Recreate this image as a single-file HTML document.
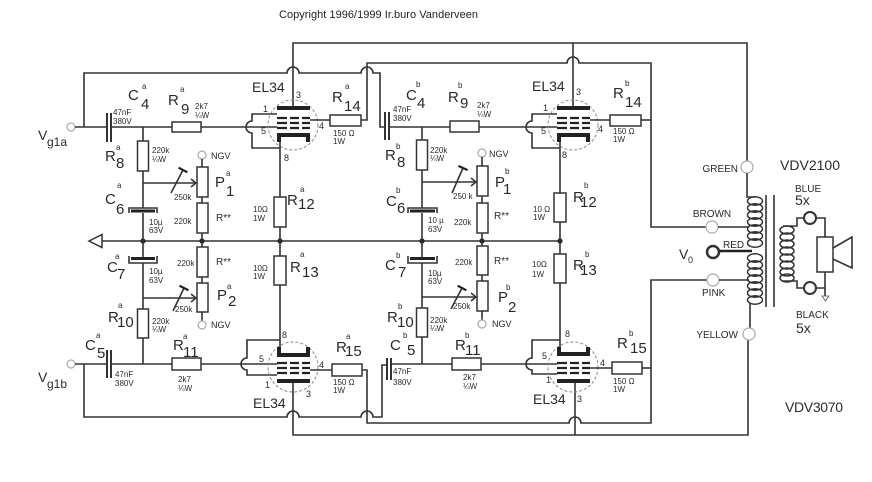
<!DOCTYPE html>
<html><head><meta charset="utf-8"><style>
html,body{margin:0;padding:0;background:#fff;overflow:hidden}
svg{display:block}
.w{stroke:#333;stroke-width:1.6;fill:none}
.r{stroke:#333;stroke-width:1.5;fill:#fff}
.k{fill:#222}
.d{stroke:#888;stroke-width:1;fill:none;stroke-dasharray:3 2}
.c{stroke:#aaa;stroke-width:1.2;fill:#fff}
.g{stroke:#333;stroke-width:2;fill:none}
.th{stroke:#222;stroke-width:2.2;fill:none}
.L{font-size:15px}
.S{font-size:8px}
.v{font-size:8px}
.p{font-size:9px}
.n{font-size:10px}
.e{font-size:14px}
</style></head><body>
<svg width="872" height="482" viewBox="0 0 872 482" xmlns="http://www.w3.org/2000/svg" font-family="'Liberation Sans', Arial, sans-serif">
<rect width="872" height="482" fill="#fff"/>
<text x="279" y="18" font-size="11" fill="#222" textLength="199">Copyright 1996/1999 Ir.buro Vanderveen</text>

<!-- ===== long wires ===== -->
<path class="w" d="M293,106 V43 H747 V161"/>
<path class="w" d="M573,43 V106"/>
<path class="w" d="M84,127 V73 H287 A6,6 0 0 1 299,73 H361 A6,6 0 0 1 373,73 H380 V127 H385"/>
<path class="w" d="M361,120 H367 V63 H567 A6,6 0 0 1 579,63 H651 V227 H706"/>
<path class="w" d="M641,120 H651"/>
<path class="w" d="M84,364 V417 H287 A6,6 0 0 1 299,417 H361 A6,6 0 0 1 373,417 H382 V365 H387"/>
<path class="w" d="M362,370 H367 V423 H569 A6,6 0 0 1 581,423 H651 V280 H707"/>
<path class="w" d="M642,368 H651"/>
<path class="w" d="M293,383 V435 H748 V340"/>
<path class="w" d="M575,383 V435"/>

<!-- ground rail -->
<path class="w" d="M102,241 H560"/>
<polygon points="89,241 102,234.5 102,247.5" fill="#fff" stroke="#333" stroke-width="1.5"/>
<g class="k">
<circle cx="143" cy="241" r="2.6"/><circle cx="202" cy="241" r="2.6"/><circle cx="280" cy="241" r="2.6"/>
<circle cx="422" cy="241" r="2.6"/><circle cx="482" cy="241" r="2.6"/><circle cx="560" cy="241" r="2.6"/>
</g>

<!-- ===== Section A top ===== -->
<circle class="c" cx="71" cy="127" r="4"/>
<path class="w" d="M75,127 H107 M111,127 H172 M201,127 H277"/>
<path class="g" d="M107,113 V142 M111,113 V142"/>
<rect class="r" x="172" y="122" width="29" height="10"/>
<path class="w" d="M277,114 H252 V121 A6,6 0 0 0 252,133 V148 H280"/>
<path class="w" d="M143,127 V141 M143,171 V208 M143,213 V241"/>
<rect class="r" x="137.5" y="141" width="11" height="30"/>
<path class="w" d="M143,183 H196" stroke-width="1.2"/>
<path class="w" d="M191,179 L196,183 L191,187" stroke-width="1.1"/>
<path class="w" d="M171,193 L183,170" stroke-width="1.3"/>
<path class="th" d="M178.6,167.7 L187.4,172.3" stroke-width="3"/>
<path class="w" d="M129,213 V208 H157 V213" stroke-width="1.1"/>
<rect class="k" x="131" y="209.5" width="24" height="3"/>
<circle class="c" cx="202" cy="155" r="4"/>
<path class="w" d="M202,159 V167 M202,197 V203 M202,233 V241"/>
<rect class="r" x="197" y="167" width="11" height="30"/>
<rect class="r" x="197" y="203" width="11" height="30"/>
<!-- tube A top -->
<circle class="d" cx="293" cy="125" r="25"/>
<rect class="k" x="277" y="106" width="33" height="4"/>
<path class="th" d="M277,118 H287 M290,118 H299 M302,118 H310 M277,123 H287 M290,123 H299 M302,123 H310 M277,128 H287 M290,128 H299 M302,128 H310"/>
<rect class="k" x="277" y="133" width="33" height="4"/>
<rect class="k" x="277" y="133" width="4" height="9"/>
<rect class="k" x="306" y="133" width="4" height="9"/>
<path class="w" d="M280,142 V197 M280,227 V256 M280,285 V348"/>
<rect class="r" x="274" y="197" width="12" height="30"/>
<rect class="r" x="274" y="256" width="12" height="29"/>
<path class="w" d="M310,120 H330"/>
<rect class="r" x="330" y="115" width="31" height="11"/>

<!-- ===== Section B top ===== -->
<path class="g" d="M385,112 V140 M389,112 V140"/>
<path class="w" d="M389,127 H450 M479,127 H557"/>
<rect class="r" x="450" y="121" width="29" height="11"/>
<path class="w" d="M557,114 H532 V121 A6,6 0 0 0 532,133 V148 H560"/>
<path class="w" d="M422,127 V140 M422,170 V208 M422,213 V241"/>
<rect class="r" x="416.5" y="140" width="11" height="30"/>
<path class="w" d="M422,182 H476" stroke-width="1.2"/>
<path class="w" d="M471,178 L476,182 L471,186" stroke-width="1.1"/>
<path class="w" d="M452,193 L463,168" stroke-width="1.3"/>
<path class="th" d="M458.4,165.9 L467.6,170.1" stroke-width="3"/>
<path class="w" d="M408,213 V208 H437 V213" stroke-width="1.1"/>
<rect class="k" x="410" y="209.5" width="25" height="3"/>
<circle class="c" cx="482" cy="153" r="4"/>
<path class="w" d="M482,157 V166 M482,196 V203 M482,233 V241"/>
<rect class="r" x="477" y="166" width="11" height="30"/>
<rect class="r" x="477" y="203" width="11" height="30"/>
<circle class="d" cx="573" cy="125" r="25"/>
<rect class="k" x="557" y="106" width="33" height="4"/>
<path class="th" d="M557,118 H567 M570,118 H579 M582,118 H590 M557,123 H567 M570,123 H579 M582,123 H590 M557,128 H567 M570,128 H579 M582,128 H590"/>
<rect class="k" x="557" y="133" width="33" height="4"/>
<rect class="k" x="557" y="133" width="4" height="9"/>
<rect class="k" x="586" y="133" width="4" height="9"/>
<path class="w" d="M560,142 V193 M560,222 V254 M560,283 V347"/>
<rect class="r" x="554" y="193" width="12" height="29"/>
<rect class="r" x="554" y="254" width="12" height="29"/>
<path class="w" d="M590,120 H610"/>
<rect class="r" x="610" y="115" width="31" height="11"/>

<!-- ===== Section A bottom ===== -->
<path class="w" d="M143,241 V257 M143,263 V309 M143,338 V364"/>
<rect class="k" x="131" y="257" width="24" height="3"/>
<path class="w" d="M129,256 V263 H157 V256" stroke-width="1.1"/>
<rect class="r" x="137.5" y="309" width="11" height="29"/>
<path class="w" d="M143,298 H196" stroke-width="1.2"/>
<path class="w" d="M191,294 L196,298 L191,302" stroke-width="1.1"/>
<path class="w" d="M173,311 L184,288" stroke-width="1.3"/>
<path class="th" d="M179.5,285.8 L188.5,290.2" stroke-width="3"/>
<path class="w" d="M202,241 V247 M202,277 V283 M202,312 V321"/>
<rect class="r" x="197" y="247" width="11" height="30"/>
<rect class="r" x="197" y="283" width="11" height="29"/>
<circle class="c" cx="202" cy="325" r="4"/>
<circle class="c" cx="71" cy="364" r="4"/>
<path class="w" d="M75,364 H107 M111,364 H172 M201,364 H277"/>
<path class="g" d="M107,350 V378 M111,350 V378"/>
<rect class="r" x="172" y="358" width="29" height="12"/>
<path class="w" d="M280,340 H247 V358 A6,6 0 0 0 247,370 V375 H277"/>
<circle class="d" cx="293" cy="367" r="25"/>
<rect class="k" x="277" y="353" width="33" height="4"/>
<rect class="k" x="277" y="347" width="4" height="10"/>
<rect class="k" x="306" y="347" width="4" height="10"/>
<path class="th" d="M277,363 H287 M290,363 H299 M302,363 H310 M277,368 H287 M290,368 H299 M302,368 H310 M277,373 H287 M290,373 H299 M302,373 H310"/>
<rect class="k" x="277" y="379" width="33" height="4"/>
<path class="w" d="M310,370 H332"/>
<rect class="r" x="332" y="364" width="30" height="12"/>

<!-- ===== Section B bottom ===== -->
<path class="w" d="M422,241 V257 M422,263 V308 M422,337 V364"/>
<rect class="k" x="410" y="257" width="25" height="3"/>
<path class="w" d="M408,256 V263 H437 V256" stroke-width="1.1"/>
<rect class="r" x="416.5" y="308" width="11" height="29"/>
<path class="w" d="M422,297 H476" stroke-width="1.2"/>
<path class="w" d="M471,293 L476,297 L471,301" stroke-width="1.1"/>
<path class="w" d="M451,309 L462,288" stroke-width="1.3"/>
<path class="th" d="M457.6,285.7 L466.4,290.3" stroke-width="3"/>
<path class="w" d="M482,241 V246 M482,275 V281 M482,311 V320"/>
<rect class="r" x="477" y="246" width="11" height="29"/>
<rect class="r" x="477" y="281" width="11" height="30"/>
<circle class="c" cx="482" cy="324" r="4"/>
<path class="g" d="M387,358 V380 M391,358 V380"/>
<path class="w" d="M391,364 H452 M481,364 H557"/>
<rect class="r" x="452" y="358" width="29" height="12"/>
<path class="w" d="M560,340 H532 V358 A6,6 0 0 0 532,370 V374 H557"/>
<circle class="d" cx="573" cy="367" r="25"/>
<rect class="k" x="557" y="352" width="33" height="4"/>
<rect class="k" x="557" y="347" width="4" height="9"/>
<rect class="k" x="586" y="347" width="4" height="9"/>
<path class="th" d="M557,363 H567 M570,363 H579 M582,363 H590 M557,368 H567 M570,368 H579 M582,368 H590 M557,373 H567 M570,373 H579 M582,373 H590"/>
<rect class="k" x="557" y="379" width="33" height="4"/>
<path class="w" d="M590,368 H612"/>
<rect class="r" x="612" y="362" width="30" height="12"/>

<!-- ===== Transformer ===== -->
<circle class="c" cx="747" cy="167" r="6"/>
<path class="w" d="M747,173 V197 H755"/>
<circle class="c" cx="712" cy="227" r="6"/>
<path class="w" d="M718,227 H749"/>
<circle cx="713" cy="252" r="6" fill="#fff" stroke="#333" stroke-width="2.5"/>
<path d="M719,251 H752" stroke="#222" stroke-width="2.5"/>
<circle class="c" cx="713" cy="280" r="6"/>
<path class="w" d="M719,280 H749"/>
<path class="w" d="M750,303 V328"/>
<circle class="c" cx="749" cy="334" r="6"/>
<g fill="none" stroke="#333" stroke-width="1.5">
<ellipse cx="755" cy="201" rx="7.5" ry="4.2"/><ellipse cx="755" cy="208" rx="7.5" ry="4.2"/>
<ellipse cx="755" cy="215" rx="7.5" ry="4.2"/><ellipse cx="755" cy="222" rx="7.5" ry="4.2"/>
<ellipse cx="755" cy="229" rx="7.5" ry="4.2"/><ellipse cx="755" cy="236" rx="7.5" ry="4.2"/>
<ellipse cx="755" cy="243" rx="7.5" ry="4.2"/>
<ellipse cx="755" cy="258" rx="7.5" ry="4.2"/><ellipse cx="755" cy="265" rx="7.5" ry="4.2"/>
<ellipse cx="755" cy="272" rx="7.5" ry="4.2"/><ellipse cx="755" cy="279" rx="7.5" ry="4.2"/>
<ellipse cx="755" cy="286" rx="7.5" ry="4.2"/><ellipse cx="755" cy="293" rx="7.5" ry="4.2"/>
<ellipse cx="755" cy="300" rx="7.5" ry="4.2"/>
<ellipse cx="787" cy="230" rx="7" ry="4"/><ellipse cx="787" cy="237" rx="7" ry="4"/>
<ellipse cx="787" cy="244" rx="7" ry="4"/><ellipse cx="787" cy="251" rx="7" ry="4"/>
<ellipse cx="787" cy="258" rx="7" ry="4"/><ellipse cx="787" cy="265" rx="7" ry="4"/>
<ellipse cx="787" cy="272" rx="7" ry="4"/><ellipse cx="787" cy="278" rx="7" ry="4"/>
</g>
<path class="w" d="M766,195 V307 M774,195 V307" stroke-width="1.5"/>
<path class="w" d="M783,226 H797 V218 H804 M816,218 H825 V237 M825,272 V288 H816 M804,288 H797 V281 H783"/>
<circle cx="810" cy="218" r="6" fill="#fff" stroke="#333" stroke-width="2"/>
<circle cx="810" cy="288" r="6" fill="#fff" stroke="#333" stroke-width="2"/>
<rect class="r" x="817" y="237" width="16" height="35"/>
<path class="w" d="M833,248 L852,237 V268 L833,259" stroke-width="1.5"/>
<path class="w" d="M825,288 V296" stroke-width="1"/>
<polygon points="822,296 829,296 825.5,301" fill="#fff" stroke="#555" stroke-width="0.8"/>

<!-- ===== Text ===== -->
<g fill="#2a2a2a">
<!-- big letters -->
<g class="L">
<text x="128" y="100">C</text><text x="168" y="105">R</text><text x="105" y="161">R</text><text x="105" y="204">C</text>
<text x="215" y="187">P</text><text x="287" y="205">R</text><text x="332" y="102">R</text>
<text x="406" y="100">C</text><text x="448" y="102">R</text><text x="385" y="160">R</text><text x="386" y="206">C</text>
<text x="495" y="187">P</text><text x="573" y="202">R</text><text x="613" y="98">R</text>
<text x="107" y="272">C</text><text x="108" y="322">R</text><text x="217" y="300">P</text><text x="290" y="272">R</text>
<text x="85" y="350">C</text><text x="173" y="350">R</text><text x="336" y="352">R</text>
<text x="385" y="270">C</text><text x="498" y="302">P</text><text x="387" y="322">R</text><text x="390" y="350">C</text>
<text x="455" y="350">R</text><text x="573" y="270">R</text><text x="617" y="348">R</text>
<!-- subscripts -->
<text x="141" y="109">4</text><text x="181" y="114">9</text><text x="116" y="168">8</text><text x="116" y="214">6</text>
<text x="226" y="196">1</text><text x="298" y="209">12</text><text x="344" y="111">14</text>
<text x="417" y="108">4</text><text x="460" y="108">9</text><text x="397" y="167">8</text><text x="397" y="213">6</text>
<text x="503" y="194">1</text><text x="580" y="207">12</text><text x="625" y="107">14</text>
<text x="117" y="279">7</text><text x="117" y="327">10</text><text x="228" y="306">2</text><text x="302" y="277">13</text>
<text x="97" y="358">5</text><text x="183" y="357">11</text><text x="345" y="356">15</text>
<text x="398" y="277">7</text><text x="508" y="312">2</text><text x="397" y="327">10</text><text x="407" y="355">5</text>
<text x="465" y="355">11</text><text x="580" y="275">13</text><text x="630" y="353">15</text>
</g>
<!-- superscripts -->
<g class="S">
<text x="142" y="89">a</text><text x="180" y="92">a</text><text x="116" y="150">a</text><text x="117" y="188">a</text>
<text x="226" y="176">a</text><text x="300" y="192">a</text><text x="345" y="89">a</text>
<text x="416" y="87">b</text><text x="458" y="88">b</text><text x="396" y="149">b</text><text x="396" y="193">b</text>
<text x="505" y="174">b</text><text x="584" y="188">b</text><text x="625" y="86">b</text>
<text x="115" y="259">a</text><text x="118" y="308">a</text><text x="227" y="289">a</text><text x="300" y="257">a</text>
<text x="96" y="338">a</text><text x="183" y="339">a</text><text x="346" y="339">a</text>
<text x="396" y="258">b</text><text x="506" y="290">b</text><text x="398" y="309">b</text><text x="403" y="338">b</text>
<text x="465" y="338">b</text><text x="585" y="257">b</text><text x="629" y="336">b</text>
</g>
<!-- values -->
<g class="v">
<text x="113" y="115">47nF</text><text x="113" y="124">380V</text><text x="195" y="109">2k7</text><text x="195" y="118">¼W</text>
<text x="152" y="153">220k</text><text x="152" y="162">¼W</text><text x="149" y="225">10µ</text><text x="149" y="233">63V</text>
<text x="174" y="200">250k</text><text x="174" y="224">220k</text><text x="253" y="212">10Ω</text><text x="253" y="221">1W</text>
<text x="333" y="136">150 Ω</text><text x="333" y="144">1W</text>
<text x="393" y="112">47nF</text><text x="393" y="121">380V</text><text x="477" y="108">2k7</text><text x="477" y="117">¼W</text>
<text x="430" y="153">220k</text><text x="430" y="161">¼W</text><text x="428" y="223">10 µ</text><text x="428" y="232">63V</text>
<text x="453" y="199">250 k</text><text x="454" y="225">220k</text><text x="533" y="212">10 Ω</text><text x="533" y="220">1W</text>
<text x="613" y="134">150 Ω</text><text x="613" y="142">1W</text>
<text x="177" y="266">220k</text><text x="149" y="274">10µ</text><text x="149" y="283">63V</text><text x="175" y="312">250k</text>
<text x="152" y="324">220k</text><text x="152" y="332">¼W</text><text x="253" y="271">10Ω</text><text x="253" y="279">1W</text>
<text x="115" y="377">47nF</text><text x="115" y="386">380V</text><text x="178" y="382">2k7</text><text x="178" y="391">¼W</text>
<text x="333" y="385">150 Ω</text><text x="333" y="393">1W</text>
<text x="455" y="265">220k</text><text x="428" y="276">10µ</text><text x="428" y="284">63V</text><text x="453" y="309">250k</text>
<text x="430" y="323">220k</text><text x="430" y="331">¼W</text><text x="532" y="267">10Ω</text><text x="532" y="277">1W</text>
<text x="393" y="374">47nF</text><text x="393" y="385">380V</text><text x="463" y="380">2k7</text><text x="463" y="389">¼W</text>
<text x="613" y="384">150 Ω</text><text x="613" y="392">1W</text>
</g>
<g class="n">
<text x="216" y="221">R**</text><text x="494" y="219">R**</text><text x="216" y="265">R**</text><text x="494" y="264">R**</text>
</g>
<g class="p">
<text x="211" y="159">NGV</text><text x="489" y="157">NGV</text><text x="211" y="328">NGV</text><text x="492" y="327">NGV</text>
<text x="263" y="112">1</text><text x="261" y="134">5</text><text x="296" y="98">3</text><text x="319" y="129">4</text><text x="284" y="161">8</text>
<text x="543" y="111">1</text><text x="541" y="134">5</text><text x="576" y="95">3</text><text x="598" y="132">4</text><text x="562" y="158">8</text>
<text x="282" y="338">8</text><text x="259" y="362">5</text><text x="319" y="368">4</text><text x="265" y="388">1</text><text x="306" y="397">3</text>
<text x="565" y="337">8</text><text x="542" y="359">5</text><text x="600" y="366">4</text><text x="546" y="383">1</text><text x="577" y="402">3</text>
</g>
<g class="e">
<text x="252" y="92">EL34</text><text x="532" y="91">EL34</text><text x="253" y="408">EL34</text><text x="533" y="404">EL34</text>
<text x="38" y="140">V</text><text x="38" y="382">V</text>
<text x="780" y="170" textLength="60">VDV2100</text>
<text x="795" y="205">5x</text><text x="796" y="333">5x</text>
<text x="679" y="259">V</text>
<text x="785" y="412" textLength="58">VDV3070</text>
</g>
<text x="47" y="146" font-size="12">g1a</text>
<text x="47" y="388" font-size="12">g1b</text>
<text x="688" y="263" font-size="9">0</text>
<g class="n">
<text x="738" y="172" text-anchor="end">GREEN</text>
<text x="712" y="217" text-anchor="middle">BROWN</text>
<text x="723" y="248">RED</text>
<text x="702" y="296">PINK</text>
<text x="738" y="338" text-anchor="end">YELLOW</text>
<text x="795" y="192">BLUE</text>
<text x="796" y="318">BLACK</text>
</g>
</g>
</svg>
</body></html>
